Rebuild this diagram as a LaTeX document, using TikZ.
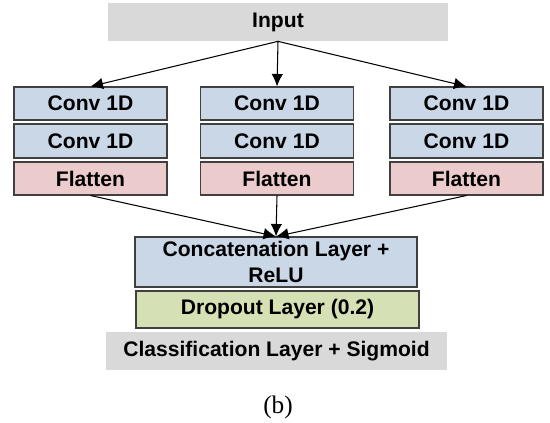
\documentclass[tikz,border=0pt]{standalone}
\usepackage{fontspec}
\setmainfont{Liberation Serif}
\setsansfont{Liberation Sans}
\usepackage{tikz}
\usetikzlibrary{arrows.meta}
\definecolor{convblue}{HTML}{C9D7E6}
\definecolor{flatpink}{HTML}{EBCBCB}
\definecolor{dropgreen}{HTML}{D5E1B5}
\definecolor{iogray}{HTML}{D9D9D9}

\begin{document}
\begin{tikzpicture}[font=\sffamily\bfseries\fontsize{12}{15}\selectfont,layer/.style={draw=black!75,line width=0.6pt,inner sep=0pt,align=center},conv/.style={layer,fill=convblue,minimum width=3.06cm,minimum height=0.66cm},flat/.style={layer,fill=flatpink,minimum width=3.06cm,minimum height=0.66cm},io/.style={fill=iogray,inner sep=0pt,minimum width=6.8cm,minimum height=0.76cm},link/.style={line width=0.6pt,-{Latex[length=2.5mm,width=2.3mm]}}]
\useasboundingbox (0,0) rectangle (11,8.46);
\node[io] (input) at (5.56,8.02) {Input};
\foreach \n/\x in {a/1.81,b/5.54,c/9.33} {\node[conv] (\n1) at (\x,6.39) {Conv 1D}; \node[conv,minimum height=0.68cm] (\n2) at (\x,5.64) {Conv 1D}; \node[flat] (\n3) at (\x,4.89) {Flatten};}
\node[layer,fill=convblue,minimum width=5.64cm,minimum height=1cm] (concat) at (5.52,3.22) {Concatenation Layer +\\ReLU};
\node[layer,fill=dropgreen,minimum width=5.66cm,minimum height=0.74cm] (drop) at (5.55,2.27) {Dropout Layer (0.2)};
\node[io,minimum width=6.82cm] (classif) at (5.53,1.44) {Classification Layer + Sigmoid};
\node[font=\rmfamily\Large] (cap) at (5.56,0.32) {(b)};
\foreach \n in {a,b,c} {\draw[link] (input.south) -- (\n1.north); \draw[link] (\n3.south) -- (concat.north);}
\end{tikzpicture}
\end{document}
